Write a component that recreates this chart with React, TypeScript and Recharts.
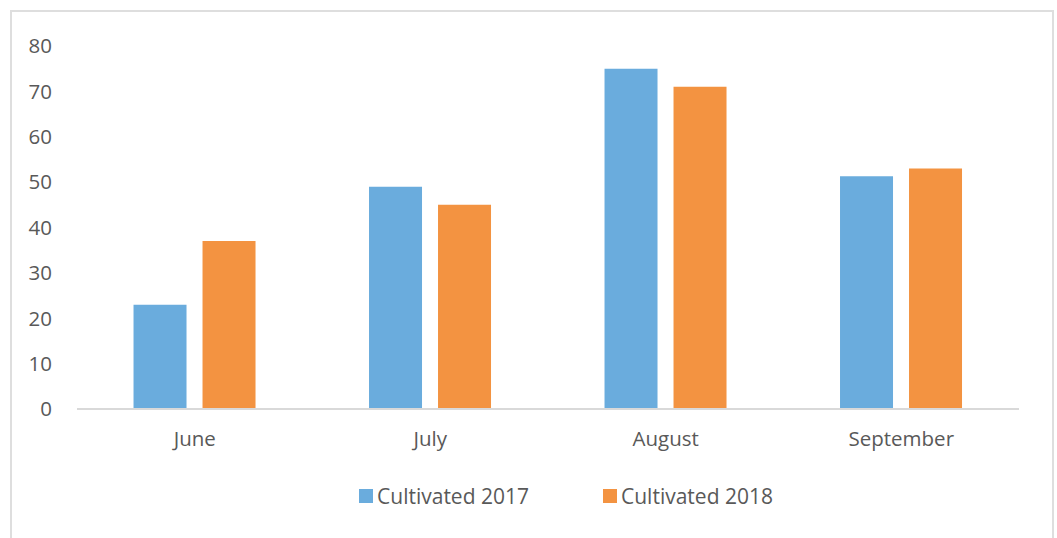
import { BarChart, Bar, XAxis, YAxis, Legend } from "recharts";

// months on the x axis
const months = ["June", "July", "August", "September"];
// cultivated values per month
const cultivated2017 = [23, 49, 75, 51.3];
const cultivated2018 = [37, 45, 71, 53];
const yTicks = [0, 10, 20, 30, 40, 50, 60, 70, 80];

const data = months.map((m, i) => ({
  month: m,
  c2017: cultivated2017[i],
  c2018: cultivated2018[i],
}));

const FONT = "'Open Sans', sans-serif";
const TEXT = "#595959";

function LegendContent(props: any) {
  const items = props.payload || [];
  return (
    <div style={{ display: "flex", justifyContent: "center", paddingLeft: 75, height: 24, alignItems: "center" }}>
      {items.map((it: any, i: number) => (
        <div key={i} style={{ display: "flex", alignItems: "center", marginRight: i === 0 ? 74 : 0 }}>
          <span style={{ width: 14, height: 14, background: it.color, display: "inline-block", marginRight: 4 }} />
          <span style={{ fontFamily: FONT, fontSize: 21, color: TEXT, lineHeight: "24px" }}>{it.value}</span>
        </div>
      ))}
    </div>
  );
}

export default function App() {
  return (
    <div style={{ position: "absolute", left: 0, top: 0, width: 1057, height: 538, background: "#fff", overflow: "hidden" }}>
      <div
        style={{
          position: "absolute",
          left: 10,
          top: 10,
          width: 1040,
          height: 560,
          border: "2px solid #dedede",
        }}
      />
      <div style={{ position: "absolute", left: 0, top: 0 }}>
        <BarChart
          width={1057}
          height={538}
          data={data}
          margin={{ top: 46, right: 38, bottom: 0, left: 0 }}
          barCategoryGap="24%"
          barGap={16}
        >
          <XAxis
            dataKey="month"
            axisLine={{ stroke: "#d9d9d9", strokeWidth: 2 }}
            tickLine={false}
            tickSize={0}
            tickMargin={22}
            height={105}
            tick={{ fill: TEXT, fontSize: 20.5, fontFamily: FONT }}
          />
          <YAxis
            width={77}
            domain={[0, 80]}
            ticks={yTicks}
            axisLine={false}
            tickLine={false}
            tickSize={0}
            tickMargin={25}
            tick={{ fill: TEXT, fontSize: 20.5, fontFamily: FONT }}
          />
          <Legend
            verticalAlign="bottom"
            height={24}
            content={<LegendContent />}
            wrapperStyle={{ top: 484, left: 0, width: 1057, height: 24 }}
          />
          <Bar dataKey="c2017" name="Cultivated 2017" fill="#6aacdd" isAnimationActive={false} />
          <Bar dataKey="c2018" name="Cultivated 2018" fill="#f39341" isAnimationActive={false} />
        </BarChart>
      </div>
    </div>
  );
}
